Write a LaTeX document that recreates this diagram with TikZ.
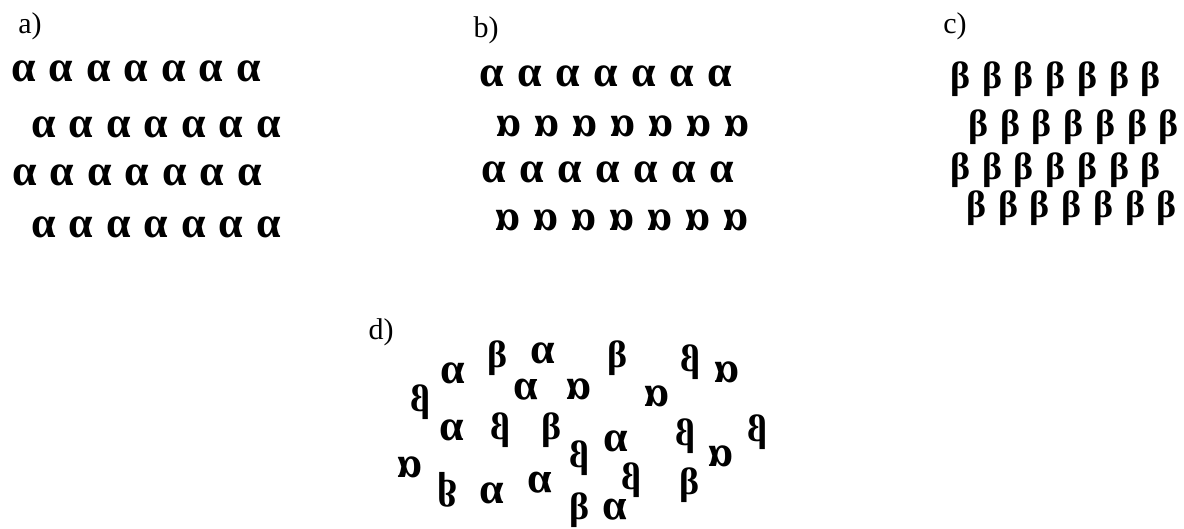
\documentclass[tikz,border=0pt]{standalone}
\usepackage{fontspec}
\usepackage{graphicx}
\setmainfont{Liberation Serif}
\newcommand{\afont}{\fontsize{44}{46}\selectfont}
\newcommand{\gAl}{{\afont α}}
\newcommand{\gAlm}{\reflectbox{\afont α}}
\newcommand{\gAlv}{\scalebox{1}[-1]{\afont α}}
\newcommand{\gBe}{β}
\newcommand{\gBem}{\reflectbox{β}}
\newcommand{\gBev}{\scalebox{1}[-1]{β}}
\tikzset{
  glyph/.style={inner sep=0pt, font=\bfseries\fontsize{38}{40}\selectfont},
  plabel/.style={inner sep=0pt, font=\fontsize{30}{32}\selectfont},
}

\begin{document}
\begin{tikzpicture}[x=1pt, y=-1pt]
  \useasboundingbox (0,0) rectangle (1184,529);
  % panel labels
  \node[plabel] (la) at (30,26) {a)};
  \node[plabel] (lb) at (486,30) {b)};
  \node[plabel] (lc) at (955,26) {c)};
  \node[plabel] (ld) at (381,332) {d)};
  % a) all alpha upright
  \foreach \i in {0,...,6} {
    \node[glyph] (a1\i) at ({23.5+37.5*\i},71) {\gAl};
    \node[glyph] (a2\i) at ({43.5+37.5*\i},127) {\gAl};
    \node[glyph] (a3\i) at ({24.5+37.5*\i},175) {\gAl};
    \node[glyph] (a4\i) at ({43.5+37.5*\i},227) {\gAl};
  }
  % b) alternate rows mirrored
  \foreach \i in {0,...,6} {
    \node[glyph] (b1\i) at ({491.5+38*\i},76) {\gAl};
    \node[glyph] (b2\i) at ({509.5+38*\i},126) {\gAlm};
    \node[glyph] (b3\i) at ({493.5+38*\i},172) {\gAl};
    \node[glyph] (b4\i) at ({508.5+38*\i},220) {\gAlm};
  }
  % c) all beta upright
  \foreach \i in {0,...,6} {
    \node[glyph] (c1\i) at ({960.5+31.7*\i},79) {\gBe};
    \node[glyph] (c2\i) at ({978.5+31.7*\i},127) {\gBe};
    \node[glyph] (c3\i) at ({960.5+31.7*\i},170) {\gBe};
    \node[glyph] (c4\i) at ({976.5+31.7*\i},208) {\gBe};
  }
  % d) mixed, scattered
  \foreach \x/\y/\g [count=\k] in {
      453/373/\gAl, 498/358/\gBe, 543/353/\gAl, 618/358/\gBe,
      690/362/\gBem, 727/372/\gAlm, 420/402/\gBem, 526/390/\gAlv,
      579/389/\gAlm, 657/396/\gAlm, 452/430/\gAl, 500/430/\gBem,
      552/430/\gBe, 579/458/\gBem, 616/441/\gAl, 685/436/\gBem,
      757/432/\gBem, 410/467/\gAlm, 721/456/\gAlm, 448/490/\gBev,
      492/493/\gAl, 540/483/\gAlv, 631/480/\gBem, 690/485/\gBe,
      580/510/\gBe, 615/510/\gAlv}
    \node[glyph] (d\k) at (\x,\y) {\g};
\end{tikzpicture}
\end{document}
